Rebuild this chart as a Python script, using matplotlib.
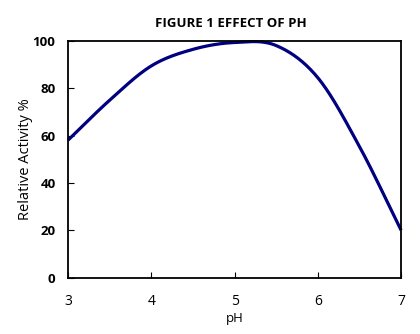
import numpy as np
import matplotlib
matplotlib.use("Agg")
import matplotlib.pyplot as plt

ph = [3.0, 3.5, 4.0, 4.5, 5.0, 5.5, 6.0, 6.5, 7.0]
activity = [58.1, 75.0, 89.5, 96.5, 99.4, 98.1, 84.5, 55.4, 20.0]
x_ticks = [3, 4, 5, 6, 7]
y_ticks = [0, 20, 40, 60, 80, 100]


def catmull_rom(xs, ys, n=40):
    """Smooth curve through the measured points (Catmull-Rom spline)."""
    xs = np.asarray(xs, float)
    ys = np.asarray(ys, float)
    px = np.concatenate([[2 * xs[0] - xs[1]], xs, [2 * xs[-1] - xs[-2]]])
    py = np.concatenate([[2 * ys[0] - ys[1]], ys, [2 * ys[-1] - ys[-2]]])
    out_x, out_y = [], []
    t = np.linspace(0, 1, n, endpoint=False)
    for i in range(1, len(px) - 2):
        for arr, out in ((px, out_x), (py, out_y)):
            p0, p1, p2, p3 = arr[i - 1], arr[i], arr[i + 1], arr[i + 2]
            out.append(0.5 * ((2 * p1) + (-p0 + p2) * t
                              + (2 * p0 - 5 * p1 + 4 * p2 - p3) * t ** 2
                              + (-p0 + 3 * p1 - 3 * p2 + p3) * t ** 3))
    out_x.append([xs[-1]])
    out_y.append([ys[-1]])
    return np.concatenate(out_x), np.concatenate(out_y)


fig = plt.figure(figsize=(4.2, 3.34), dpi=100)
ax = fig.add_axes([0.162, 0.169, 0.793, 0.708])

sx, sy = catmull_rom(ph, activity)
ax.plot(sx, sy, color="#000080", lw=2.3, solid_capstyle="butt", clip_on=False)

ax.set_xlim(3, 7)
ax.set_ylim(0, 100)
ax.set_xticks(x_ticks)
ax.set_yticks(y_ticks)
ax.tick_params(direction="in", length=4, width=0.8, color="black")
ax.tick_params(axis="x", pad=12, labelsize=10)
ax.tick_params(axis="y", pad=9, labelsize=9.5)
for lab in ax.get_xticklabels():
    lab.set_family("Open Sans")
for lab in ax.get_yticklabels():
    lab.set_family("Open Sans")
    lab.set_fontweight("bold")
for s in ax.spines.values():
    s.set_linewidth(1.3)

ax.set_xlabel("pH", fontsize=9.5, family="Open Sans", labelpad=2)
ax.set_ylabel("Relative Activity %", fontsize=10.5, family="Open Sans")
ax.yaxis.set_label_coords(-0.105, 0.5)
fig.text(0.55, 0.93, "FIGURE 1 EFFECT OF PH", ha="center", va="center",
         fontsize=9.5, fontweight="bold", family="Open Sans")

fig.savefig("out.png", dpi=100)
